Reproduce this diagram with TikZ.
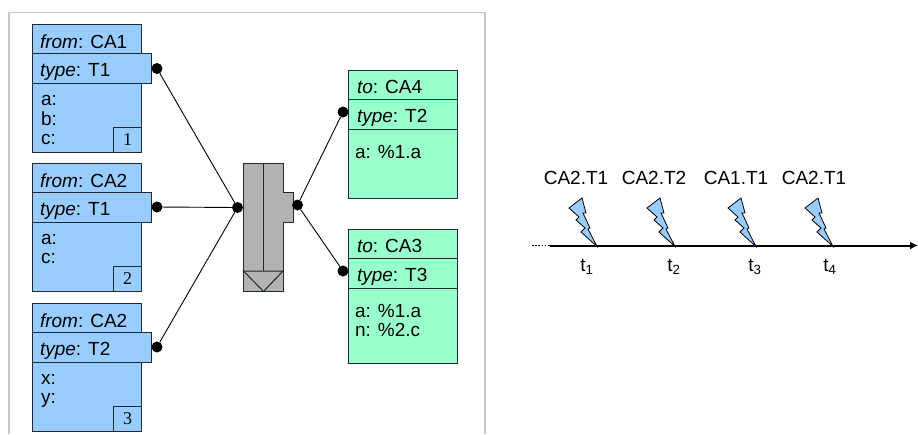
\documentclass[tikz,border=0pt]{standalone}
\usepackage{fontspec}
\setmainfont{Liberation Sans}
\newfontfamily\numfont{Liberation Serif}
\usetikzlibrary{arrows.meta}
\definecolor{blu}{HTML}{99CCFF}
\definecolor{grn}{HTML}{99FFCC}
\definecolor{gry}{HTML}{B2B2B2}
\definecolor{frm}{HTML}{C8C8C8}
\definecolor{edge}{HTML}{1F2A33}
\tikzset{
  x=1pt,y=-1pt,
  lbl/.style={inner sep=0pt,outer sep=0pt,anchor=base west,font=\fontsize{19}{18}\selectfont},
  lines/.style={inner sep=0pt,outer sep=0pt,anchor=north west,align=left,font=\fontsize{19}{19}\selectfont},
  num/.style={inner sep=0pt,font=\fontsize{18}{18}\selectfont\numfont},
  tl/.style={inner sep=0pt,outer sep=0pt,font=\fontsize{19}{18}\selectfont},
  dot/.style={circle,fill=black,minimum size=11pt,inner sep=0pt,outer sep=0pt},
  conn/.style={draw=black,line width=0.9pt},
  grayshape/.style={draw=edge,fill=gry,line width=1pt},
  bolt/.style={draw=black,fill=blu,line width=0.8pt,line join=miter}
}
\newcommand{\srcbox}[5]{% y, fromname, type, body, number
  \fill[blu,draw=edge,line width=1pt] (32.5,#1) rectangle (141.5,#1+127.5);
  \draw[edge,line width=1pt] (32.5,#1) rectangle (141.5,#1+29);
  \fill[blu,draw=edge,line width=1pt] (32.5,#1+29) rectangle (151,#1+58.5);
  \node[lbl] at (40,#1+23.5) {\textit{from}: #2};
  \node[lbl] at (40,#1+52) {\textit{type}: #3};
  \node[lines] at (41,#1+67.2) {\strut #4};
  \draw[edge,line width=1pt] (113.5,#1+127.5) rectangle (141.5,#1+102.5);
  \node[num] at (127.5,#1+115.5) {#5};
}
\newcommand{\dstbox}[5]{% y, to, type, body, height
  \fill[grn,draw=edge,line width=1pt] (348,#1) rectangle (457,#1+#5);
  \draw[edge,line width=1pt] (348,#1+29.5) -- (457,#1+29.5);
  \draw[edge,line width=1pt] (348,#1+59.5) -- (457,#1+59.5);
  \node[lbl] at (357,#1+23.5) {\textit{to}: #2};
  \node[lbl] at (357,#1+52) {\textit{type}: #3};
  \node[lines] at (355,#1+75) {\strut #4};
}
\newcommand{\flash}[1]{% tip x, tip y = 246
  \draw[bolt] (#1,246.5) -- (#1-16,232) -- (#1-12,228) -- (#1-21,220) -- (#1-18,217) -- (#1-28,208) -- (#1-15,198) -- (#1-11,213) -- (#1-14,213) -- (#1-7,228) -- (#1-9,229) -- cycle;
}
\begin{document}
\begin{tikzpicture}
\useasboundingbox (0,0) rectangle (918,434);
\fill[white] (0,0) rectangle (918,434);
% frame
\draw[frm,line width=1.6pt] (9,434) -- (9,12.5) -- (485,12.5) -- (485,434);
% source boxes
\srcbox{24.5}{CA1}{T1}{a:\\b:\\c:}{1}
\srcbox{163.5}{CA2}{T1}{a:\\c:}{2}
\srcbox{303.5}{CA2}{T2}{x:\\y:}{3}
% target boxes
\dstbox{70}{CA4}{T2}{a: \%1.a}{128}
\dstbox{229}{CA3}{T3}{a: \%1.a\\n: \%2.c}{134}
% merge component
\draw[grayshape] (243.5,163) -- (283,163) -- (283,192) -- (293,192) -- (293,222) -- (283,222) -- (283,291.5) -- (243.5,291.5) -- cycle;
\draw[edge,line width=1pt] (263.5,163) -- (263.5,271);
\draw[edge,line width=1pt] (243.5,271) -- (283,271) -- (263.5,291.5) -- cycle;
% ports
\node[dot] (s1) at (157,68.5) {};
\node[dot] (s2) at (157,207) {};
\node[dot] (s3) at (157,347) {};
\node[dot] (min) at (237.5,207.5) {};
\node[dot] (mout) at (297.5,205) {};
\node[dot] (d1) at (343,112) {};
\node[dot] (d2) at (343,271) {};
\draw[conn] (s1) -- (min);
\draw[conn] (s2) -- (min);
\draw[conn] (s3) -- (min);
\draw[conn] (mout) -- (d1);
\draw[conn] (mout) -- (d2);
% timeline
\coordinate (tstart) at (550,245.5);
\coordinate (tend) at (918,245.5);
\coordinate (dstart) at (532,245.5);
\draw[black,line width=1.5pt,dash pattern=on 1.6pt off 1.6pt] (dstart) -- (tstart);
\draw[black,line width=2pt,-{Latex[length=8pt,width=8pt]}] (tstart) -- (tend);
\flash{597}
\flash{675}
\flash{756}
\flash{833}
\node[tl] at (576,178) {CA2.T1};
\node[tl] at (654,178) {CA2.T2};
\node[tl] at (736,178) {CA1.T1};
\node[tl] at (814,178) {CA2.T1};
\node[tl] at (587,267) {t\textsubscript{1}};
\node[tl] at (674,267) {t\textsubscript{2}};
\node[tl] at (755,267) {t\textsubscript{3}};
\node[tl] at (830,267) {t\textsubscript{4}};
\end{tikzpicture}
\end{document}
